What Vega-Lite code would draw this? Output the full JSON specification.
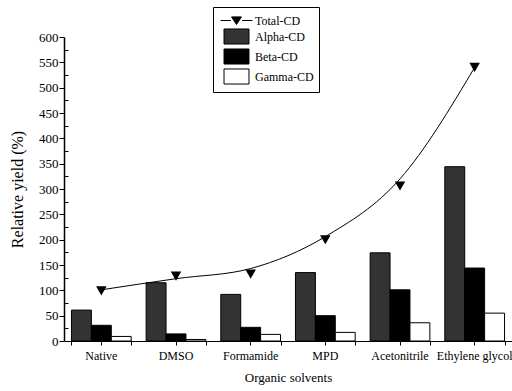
{
  "$schema": "https://vega.github.io/schema/vega-lite/v6.json",
  "width": 448,
  "height": 304,
  "autosize": "none",
  "padding": {"left": 64, "top": 37, "right": 0, "bottom": 50},
  "config": {
    "font": "Liberation Serif",
    "view": {"stroke": null},
    "axis": {"labelFont": "Liberation Serif", "titleFont": "Liberation Serif", "labelColor": "#000", "titleColor": "#000", "domainColor": "#000", "tickColor": "#000", "grid": false, "titleFontWeight": "normal"},
    "legend": {"labelFont": "Liberation Serif"}
  },
  "resolve": {"axis": {"x": "independent", "y": "independent"}},
  "datasets": {
    "bars": [
      {"solvent": "Native", "cd": "Alpha-CD", "value": 61},
      {"solvent": "Native", "cd": "Beta-CD", "value": 31},
      {"solvent": "Native", "cd": "Gamma-CD", "value": 9},
      {"solvent": "DMSO", "cd": "Alpha-CD", "value": 115},
      {"solvent": "DMSO", "cd": "Beta-CD", "value": 14},
      {"solvent": "DMSO", "cd": "Gamma-CD", "value": 3},
      {"solvent": "Formamide", "cd": "Alpha-CD", "value": 92},
      {"solvent": "Formamide", "cd": "Beta-CD", "value": 27},
      {"solvent": "Formamide", "cd": "Gamma-CD", "value": 13},
      {"solvent": "MPD", "cd": "Alpha-CD", "value": 135},
      {"solvent": "MPD", "cd": "Beta-CD", "value": 50},
      {"solvent": "MPD", "cd": "Gamma-CD", "value": 17},
      {"solvent": "Acetonitrile", "cd": "Alpha-CD", "value": 174},
      {"solvent": "Acetonitrile", "cd": "Beta-CD", "value": 101},
      {"solvent": "Acetonitrile", "cd": "Gamma-CD", "value": 36},
      {"solvent": "Ethylene glycol", "cd": "Alpha-CD", "value": 344},
      {"solvent": "Ethylene glycol", "cd": "Beta-CD", "value": 144},
      {"solvent": "Ethylene glycol", "cd": "Gamma-CD", "value": 55}
    ],
    "total": [
      {"solvent": "Native", "series": "Total-CD", "value": 99},
      {"solvent": "DMSO", "series": "Total-CD", "value": 128},
      {"solvent": "Formamide", "series": "Total-CD", "value": 132},
      {"solvent": "MPD", "series": "Total-CD", "value": 200},
      {"solvent": "Acetonitrile", "series": "Total-CD", "value": 306},
      {"solvent": "Ethylene glycol", "series": "Total-CD", "value": 540}
    ],
    "fit": [
      {"solvent": "Native", "value": 101},
      {"solvent": "DMSO", "value": 123},
      {"solvent": "Formamide", "value": 143},
      {"solvent": "MPD", "value": 206},
      {"solvent": "Acetonitrile", "value": 320},
      {"solvent": "Ethylene glycol", "value": 540}
    ]
  },
  "layer": [
    {
      "data": {"name": "bars"},
      "mark": {"type": "bar", "stroke": "#000", "strokeWidth": 1},
      "encoding": {
        "x": {"field": "solvent", "type": "nominal", "sort": null,
          "scale": {"paddingInner": 0.2, "paddingOuter": 0.1},
          "axis": {"orient": "bottom", "title": "Organic solvents", "labelAngle": 0, "labelFontSize": 12, "titleFontSize": 13, "tickSize": 4, "labelPadding": 5, "titlePadding": 10, "domainWidth": 1}},
        "xOffset": {"field": "cd", "type": "nominal", "sort": ["Alpha-CD", "Beta-CD", "Gamma-CD"]},
        "y": {"field": "value", "type": "quantitative",
          "scale": {"domain": [0, 600], "nice": false},
          "axis": {"orient": "left", "title": "Relative yield (%)", "values": [0, 50, 100, 150, 200, 250, 300, 350, 400, 450, 500, 550, 600], "labelOverlap": false, "labelFontSize": 13, "titleFontSize": 16, "tickSize": 5, "labelPadding": 1, "titlePadding": 13, "domainWidth": 1.5}},
        "fill": {"field": "cd", "type": "nominal",
          "scale": {"domain": ["Total-CD", "Alpha-CD", "Beta-CD", "Gamma-CD"], "range": ["#000000", "#333333", "#000000", "#ffffff"]},
          "legend": {
            "title": null, "orient": "none", "legendX": 149, "legendY": -30,
            "strokeColor": "#000", "fillColor": "#fff", "padding": 5,
            "symbolSize": 256, "labelFontSize": 12, "labelOffset": 10, "symbolOffset": 10, "rowPadding": -1,
            "symbolStrokeColor": "#000", "symbolStrokeWidth": 1,
            "encode": {"symbols": {"update": {
              "shape": {"signal": "datum.value === 'Total-CD' ? 'M-2,0H-0.7M0.7,0H2M-0.62,-0.45L0.62,-0.45L0,0.5Z' : 'M-1.56,-0.94H1.56V0.94H-1.56Z'"},
              "strokeWidth": {"value": 1}
            }}}
          }}
      }
    },
    {
      "data": {"name": "fit"},
      "mark": {"type": "line", "interpolate": "monotone", "color": "#000", "strokeWidth": 1},
      "encoding": {
        "x": {"field": "solvent", "type": "nominal", "sort": null,
          "axis": {"orient": "bottom", "title": null, "labels": false, "domain": false, "tickBand": "extent", "tickSize": 4}},
        "y": {"field": "value", "type": "quantitative",
          "axis": {"orient": "left", "title": null, "labels": false, "domain": false, "tickSize": -4, "values": [25, 75, 125, 175, 225, 275, 325, 375, 425, 475, 525, 575]}}
      }
    },
    {
      "data": {"name": "total"},
      "mark": {"type": "point", "shape": "triangle-down", "filled": true, "size": 110, "opacity": 1},
      "encoding": {
        "x": {"field": "solvent", "type": "nominal", "sort": null, "axis": null},
        "y": {"field": "value", "type": "quantitative", "axis": null},
        "fill": {"field": "series", "type": "nominal"},
        "color": {"value": "#000"}
      }
    }
  ]
}
